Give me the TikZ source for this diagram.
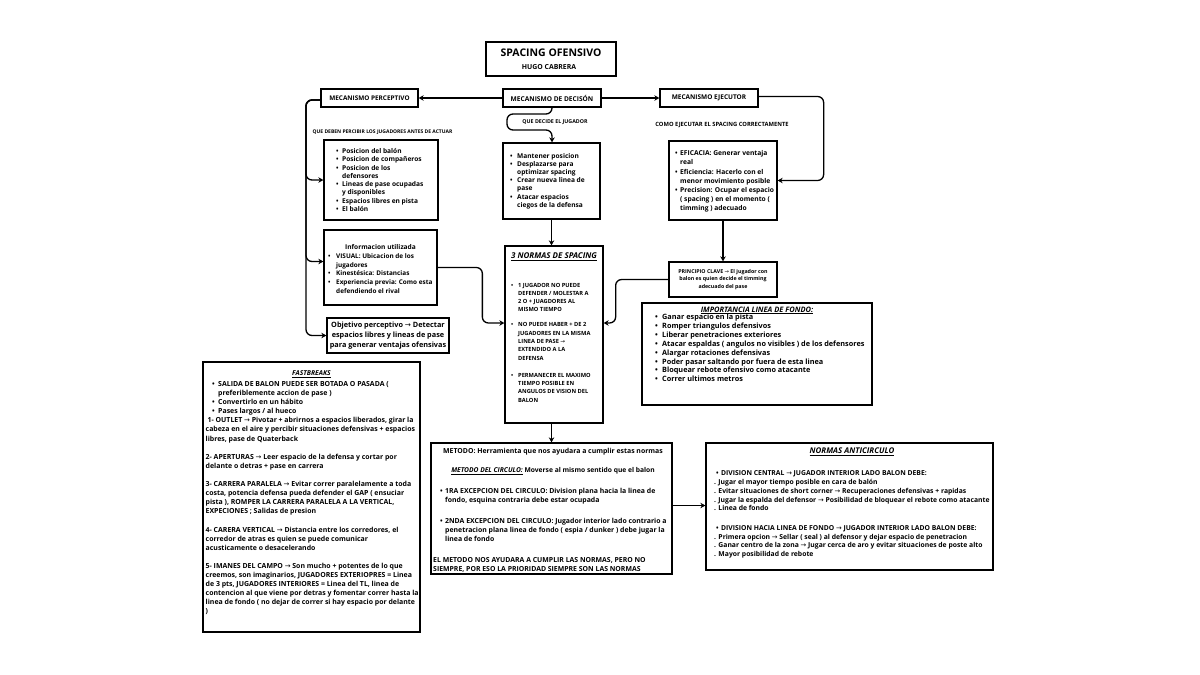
\documentclass[tikz,border=0pt]{standalone}
\usepackage{fontspec}
\setmainfont{Open Sans}[UprightFont=* Bold, ItalicFont=* Bold Italic]
\newfontfamily\djv{DejaVu Sans}
\usetikzlibrary{arrows.meta,calc}
\newlength\bx \newlength\tx \newlength\bw
\newcommand\setbul[2]{\global\bx=#1\relax\global\tx=#2\relax\global\bw=\dimexpr#2-#1\relax}
\newcommand\B{\hspace*{\bx}\makebox[\bw][l]{\textbullet}}
\newcommand\C{\hspace*{\tx}}
\newcommand\Ind{\hspace*{2.5pt}}
\newcommand\Dt{\hspace*{8pt}}
\newcommand\ra{{\djv\mdseries →}}
\newcommand\fs[2]{\fontsize{#1}{#2}\selectfont}
\tikzset{
  box/.style={draw, line width=1.3pt, inner sep=0pt},
  txt/.style={inner sep=0pt, align=left, anchor=west},
  lbl/.style={inner sep=0pt, align=center},
  conn/.style={line width=1.3pt, -{Stealth[length=5pt,width=5.5pt]}, rounded corners=6pt},
}
\begin{document}
\begin{tikzpicture}[x=1pt,y=-1pt]
\fill[white] (0,0) rectangle (1200,675);
\useasboundingbox (0,0) rectangle (1200,675);

% title
\node[box, minimum width=130pt, minimum height=34pt] (title) at (551,59) {};
\node[lbl, font=\fs{10.5}{12}] (t1) at (551,53) {SPACING OFENSIVO};
\node[lbl, font=\fs{6.9}{8}] (t2) at (549,67.5) {HUGO CABRERA};

% top row
\node[box, minimum width=97pt, minimum height=18pt, font=\fs{6.4}{7}] (perc) at (369.5,98) {MECANISMO PERCEPTIVO};
\node[box, minimum width=98pt, minimum height=18pt, font=\fs{6.6}{7}] (dec) at (552,98) {MECANISMO DE DECISÓN};
\node[box, minimum width=98pt, minimum height=18pt, font=\fs{6.5}{7}] (ejec) at (709,98) {MECANISMO EJECUTOR};

\node[lbl, font=\fs{5}{6}] (l1) at (382.5,132) {QUE DEBEN PERCIBIR LOS JUGADORES ANTES DE ACTUAR};
\node[lbl, font=\fs{5.3}{6}] (l2) at (555,122) {QUE DECIDE EL JUGADOR};
\node[lbl, font=\fs{5.8}{6}] (l3) at (722,125) {COMO EJECUTAR EL SPACING CORRECTAMENTE};

% left column
\node[box, minimum width=114pt, minimum height=80pt] (pbul) at (381,180) {};
\node[txt, font=\fs{6.6}{8.3}] (pbult) at (324,180) {\setbul{12pt}{18pt}\B Posicion del balón\\
\B Posicion de compañeros\\
\B Posicion de los\\
\C defensores\\
\B Lineas de pase ocupadas\\
\C y disponibles\\
\B Espacios libres en pista\\
\B El balón};

\node[box, minimum width=113pt, minimum height=75pt] (info) at (380.5,267.5) {};
\node[lbl, font=\fs{6.6}{7}] (infot) at (380.5,247) {Informacion utilizada};
\node[txt, font=\fs{6.4}{8.7}] (infob) at (324,273.5) {\setbul{4pt}{12pt}\B VISUAL: Ubicacion de los\\
\C jugadores\\
\B Kinestésica: Distancias\\
\B Experiencia previa: Como esta\\
\C defendiendo el rival};

\node[box, minimum width=122pt, minimum height=35pt, align=center, font=\fs{7.3}{10}] (obj) at (388,335.5) {Objetivo perceptivo \ra{} Detectar\\espacios libres y lineas de pase\\para generar ventajas ofensivas};

% middle column
\node[box, minimum width=97pt, minimum height=76pt] (dbul) at (551.5,181) {};
\node[txt, font=\fs{6.6}{8.2}] (dbult) at (503,181) {\setbul{7pt}{14pt}\B Mantener posicion\\
\B Desplazarse para\\
\C optimizar spacing\\
\B Crear nueva linea de\\
\C pase\\
\B Atacar espacios\\
\C ciegos de la defensa};

\node[box, minimum width=98pt, minimum height=177pt] (normas) at (554,334.5) {};
\node[lbl, font=\fs{8}{9}] (normast) at (554,257) {\underline{\textit{3 NORMAS DE SPACING}}};
\node[txt, font=\fs{5.7}{8.3}] (normasb) at (505,342.5) {\setbul{6pt}{13pt}\B 1 JUGADOR NO PUEDE\\
\C DEFENDER / MOLESTAR A\\
\C 2 O + JUAGDORES AL\\
\C MISMO TIEMPO\\[6.7pt]
\B NO PUEDE HABER + DE 2\\
\C JUGADORES EN LA MISMA\\
\C LINEA DE PASE \ra\\
\C EXTENDIDO A LA\\
\C DEFENSA\\[8.7pt]
\B PERMANECER EL MAXIMO\\
\C TIEMPO POSIBLE EN\\
\C ANGULOS DE VISION DEL\\
\C BALON};

% right column
\node[box, minimum width=108pt, minimum height=79pt] (rbul) at (723,180.5) {};
\node[txt, font=\fs{6.7}{9.2}] (rbult) at (669,181.5) {\setbul{6pt}{11pt}\B EFICACIA: Generar ventaja\\
\C real\\
\B Eficiencia: Hacerlo con el\\
\C menor movimiento posible\\
\B Precision: Ocupar el espacio\\
\C ( spacing ) en el momento (\\
\C timming ) adecuado};

\node[box, minimum width=108pt, minimum height=35pt, align=center, font=\fs{5.3}{7.5}] (princ) at (723,279.5) {PRINCIPIO CLAVE \ra{} El jugador con\\balon es quien decide el timming\\adecuado del pase};

\node[box, minimum width=230pt, minimum height=102pt] (imp) at (757,354) {};
\node[lbl, font=\fs{7.5}{8}] (impt) at (757,310.5) {\underline{\textit{IMPORTANCIA LINEA DE FONDO:}}};
\node[txt, font=\fs{7.3}{8.9}] (impb) at (642,348) {\setbul{13pt}{20pt}\B Ganar espacio en la pista\\
\B Romper triangulos defensivos\\
\B Liberar penetraciones exteriores\\
\B Atacar espaldas ( angulos no visibles ) de los defensores\\
\B Alargar rotaciones defensivas\\
\B Poder pasar saltando por fuera de esta linea\\
\B Bloquear rebote ofensivo como atacante\\
\B Correr ultimos metros};

% fastbreaks
\node[box, minimum width=217pt, minimum height=270pt] (fast) at (311.5,497) {};
\node[lbl, font=\fs{6.7}{8}] (fastt) at (311.5,374.3) {\underline{\textit{FASTBREAKS}}};
\node[txt, font=\fs{6.95}{9.1}] (fastb) at (203,498.2) {\setbul{9pt}{15pt}\B SALIDA DE BALON PUEDE SER BOTADA O PASADA (\\
\C preferiblemente accion de pase )\\
\B Convertirlo en un hábito\\
\B Pases largos / al hueco\\
\hspace*{4.5pt}1- OUTLET \ra{} Pivotar + abrirnos a espacios liberados, girar la\\
\Ind cabeza en el aire y percibir situaciones defensivas + espacios\\
\Ind libres, pase de Quaterback\\[9.1pt]
\Ind 2- APERTURAS \ra{} Leer espacio de la defensa y cortar por\\
\Ind delante o detras + pase en carrera\\[9.1pt]
\Ind 3- CARRERA PARALELA \ra{} Evitar correr paralelamente a toda\\
\Ind costa, potencia defensa pueda defender el GAP ( ensuciar\\
\Ind pista ), ROMPER LA CARRERA PARALELA A LA VERTICAL,\\
\Ind EXPECIONES ; Salidas de presion\\[9.1pt]
\Ind 4- CARERA VERTICAL \ra{} Distancia entre los corredores, el\\
\Ind corredor de atras es quien se puede comunicar\\
\Ind acusticamente o desacelerando\\[9.1pt]
\Ind 5- IMANES DEL CAMPO \ra{} Son mucho + potentes de lo que\\
\Ind creemos, son imaginarios, JUGADORES EXTERIOPRES = Linea\\
\Ind de 3 pts, JUGADORES INTERIORES = Linea del TL, linea de\\
\Ind contencion al que viene por detras y fomentar correr hasta la\\
\Ind linea de fondo ( no dejar de correr si hay espacio por delante\\
\Ind )};

% metodo
\node[box, minimum width=241pt, minimum height=131pt] (met) at (551.5,508.5) {};
\node[lbl, font=\fs{6.9}{8}] (met1) at (553,452) {METODO: Herramienta que nos ayudara a cumplir estas normas};
\node[lbl, font=\fs{6.7}{8}] (met2) at (553,471) {\underline{\textit{METODO DEL CIRCULO:}} Moverse al mismo sentido que el balon};
\node[txt, font=\fs{6.9}{9.2}] (metb) at (431,530.2) {\setbul{9pt}{14pt}\B 1RA EXCEPCION DEL CIRCULO: Division plana hacia la linea de\\
\C fondo, esquina contraria debe estar ocupada\\[11.6pt]
\B 2NDA EXCEPCION DEL CIRCULO: Jugador interior lado contrario a\\
\C penetracion plana linea de fondo ( espia / dunker ) debe jugar la\\
\C linea de fondo\\[11.6pt]
\hspace*{2pt}EL METODO NOS AYUDARA A CUMPLIR LAS NORMAS, PERO NO\\
\hspace*{2pt}SIEMPRE, POR ESO LA PRIORIDAD SIEMPRE SON LAS NORMAS};

% anticirculo
\node[box, minimum width=287pt, minimum height=127pt] (anti) at (849.5,506.5) {};
\node[lbl, font=\fs{7.9}{9}] (antit) at (852,452) {\underline{\textit{NORMAS ANTICIRCULO}}};
\node[txt, font=\fs{6.8}{8.7}] (antib) at (706,514.6) {\setbul{10pt}{15pt}\B DIVISION CENTRAL \ra{} JUGADOR INTERIOR LADO BALON DEBE:\\
\Dt . Jugar el mayor tiempo posible en cara de balón\\
\Dt . Evitar situaciones de short corner \ra{} Recuperaciones defensivas + rapidas\\
\Dt . Jugar la espalda del defensor \ra{} Posibilidad de bloquear el rebote como atacante\\
\Dt . Linea de fondo\\[11pt]
\B DIVISION HACIA LINEA DE FONDO \ra{} JUGADOR INTERIOR LADO BALON DEBE:\\
\Dt . Primera opcion \ra{} Sellar ( seal ) al defensor y dejar espacio de penetracion\\
\Dt . Ganar centro de la zona \ra{} Jugar cerca de aro y evitar situaciones de poste alto\\
\Dt . Mayor posibilidad de rebote};

% connectors
\coordinate (lx) at (306,0);
\coordinate (sA) at (507,114);
\coordinate (sB) at (552,130);
\coordinate (percOut) at ([yshift=-2pt]perc.west);
\coordinate (infoIn) at ([yshift=6pt]info.west);
\coordinate (normL) at ([yshift=11.5pt]normas.west);
\coordinate (normR) at ([yshift=11.5pt]normas.east);
\coordinate (metOut) at ([yshift=3pt]met.east);
\draw[conn] (dec.west) -- (perc.east);
\draw[conn] (dec.east) -- (ejec.west);
\draw[conn] (percOut) -| (lx |- pbul.west) -- (pbul.west);
\draw[conn] (percOut) -| (lx |- infoIn) -- (infoIn);
\draw[conn] (percOut) -| (lx |- obj.west) -- (obj.west);
\draw[conn] (dec.south) |- (sA) |- (sB) -- (sB |- dbul.north);
\draw[conn] (dbul.south) -- (dbul.south |- normas.north);
\draw[conn] (normas.south -| met.north) -- (met.north);
\draw[conn] (info.east) -| ([xshift=-22pt]normL) -- (normL);
\draw[conn] (princ.west) -| ([xshift=12pt]normR) -- (normR);
\draw[conn] ([yshift=1.5pt]ejec.east) -| ([xshift=46pt]rbul.east) -- (rbul.east);
\draw[conn] (rbul.south) -- (princ.north);
\draw[conn] (metOut) -- (metOut -| anti.west);
\end{tikzpicture}
\end{document}
